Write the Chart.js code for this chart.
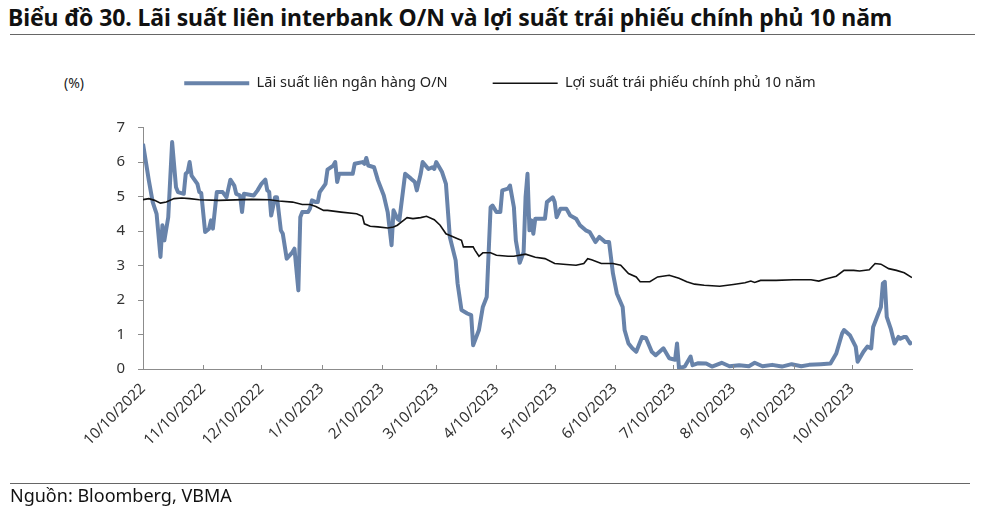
<!DOCTYPE html>
<html>
<head>
<meta charset="utf-8">
<script src="https://cdn.jsdelivr.net/npm/chart.js@4.4.0/dist/chart.umd.min.js"></script>
<style>
  html, body { margin: 0; padding: 0; background: #fff; }
  #wrap { position: relative; width: 1000px; height: 524px; font-family: 'Noto Sans', sans-serif; color: #111; }
  #title { position: absolute; left: 8px; top: 1px; font-size: 23px; font-weight: bold; white-space: nowrap; letter-spacing: -0.1px; }
  .rule { position: absolute; left: 10px; height: 1px; background: #666; }
  #unit { position: absolute; left: 64px; top: 73px; font-size: 14px; color: #222; }
  #source { position: absolute; left: 10px; top: 483px; font-size: 18px; }
  #chart { position: absolute; left: 0; top: 0; }
</style>
</head>
<body>
<div id="wrap">
  <div id="title">Biểu đồ 30. Lãi suất liên interbank O/N và lợi suất trái phiếu chính phủ 10 năm</div>
  <div class="rule" style="top:34px;width:965px"></div>
  <div id="unit">(%)</div>
  <canvas id="chart" width="1000" height="524"></canvas>
  <div class="rule" style="top:483px;width:960px"></div>
  <div id="source">Nguồn: Bloomberg, VBMA</div>
</div>
<script>
// x axis: monthly ticks
const tickLabels = ['10/10/2022', '11/10/2022', '12/10/2022', '1/10/2023', '2/10/2023', '3/10/2023',
  '4/10/2023', '5/10/2023', '6/10/2023', '7/10/2023', '8/10/2023', '9/10/2023', '10/10/2023'];
const startDate = '2022-10-10';
const endDate = '2023-11-10';

// Interbank O/N rate (%)
const onDates = [
  '2022-10-10','2022-10-13','2022-10-15','2022-10-17','2022-10-19','2022-10-20','2022-10-21','2022-10-23',
  '2022-10-25','2022-10-27','2022-10-28','2022-10-31','2022-11-01','2022-11-02','2022-11-03','2022-11-04',
  '2022-11-07','2022-11-08','2022-11-09','2022-11-11','2022-11-13','2022-11-14','2022-11-15','2022-11-17',
  '2022-11-20','2022-11-22','2022-11-24','2022-11-26','2022-11-27','2022-11-29','2022-11-30','2022-12-01',
  '2022-12-06','2022-12-08','2022-12-10','2022-12-12','2022-12-13','2022-12-14','2022-12-15','2022-12-17',
  '2022-12-18','2022-12-20','2022-12-21','2022-12-23','2022-12-26','2022-12-27','2022-12-29','2022-12-30',
  '2022-12-31','2023-01-03','2023-01-04','2023-01-05','2023-01-07','2023-01-08','2023-01-09','2023-01-12',
  '2023-01-13','2023-01-16','2023-01-17','2023-01-18','2023-01-19','2023-01-26','2023-01-27','2023-01-31',
  '2023-02-01','2023-02-02','2023-02-03','2023-02-06','2023-02-08','2023-02-11','2023-02-13','2023-02-15',
  '2023-02-16','2023-02-18','2023-02-19','2023-02-22','2023-02-25','2023-02-27','2023-02-28','2023-03-02',
  '2023-03-03','2023-03-06','2023-03-08','2023-03-09','2023-03-10','2023-03-13','2023-03-15','2023-03-17',
  '2023-03-20','2023-03-21','2023-03-23','2023-03-26','2023-03-28','2023-03-29','2023-04-01','2023-04-03',
  '2023-04-05','2023-04-07','2023-04-08','2023-04-10','2023-04-12','2023-04-13','2023-04-16','2023-04-17',
  '2023-04-19','2023-04-20','2023-04-22','2023-04-24','2023-04-25','2023-04-26','2023-04-27','2023-04-28',
  '2023-04-29','2023-04-30','2023-05-05','2023-05-06','2023-05-09','2023-05-10','2023-05-11','2023-05-13',
  '2023-05-16','2023-05-18','2023-05-21','2023-05-23','2023-05-26','2023-05-28','2023-05-31','2023-06-02',
  '2023-06-05','2023-06-07','2023-06-09','2023-06-11','2023-06-14','2023-06-15','2023-06-17','2023-06-19',
  '2023-06-21','2023-06-24','2023-06-26','2023-06-29','2023-07-01','2023-07-04','2023-07-05','2023-07-08',
  '2023-07-11','2023-07-12','2023-07-13','2023-07-16','2023-07-19','2023-07-20','2023-07-23','2023-07-27',
  '2023-07-30','2023-08-04','2023-08-08','2023-08-13','2023-08-18','2023-08-21','2023-08-25','2023-08-30',
  '2023-09-04','2023-09-09','2023-09-14','2023-09-18','2023-09-24','2023-09-29','2023-10-02','2023-10-05',
  '2023-10-06','2023-10-09','2023-10-12','2023-10-13','2023-10-16','2023-10-18','2023-10-20','2023-10-21',
  '2023-10-23','2023-10-25','2023-10-26','2023-10-27','2023-10-28','2023-10-30','2023-11-01','2023-11-03',
  '2023-11-04','2023-11-06','2023-11-07','2023-11-09','2023-11-10'
];
const onValues = [
  6.53, 5.47, 4.84, 4.50, 3.25, 4.17, 3.73, 4.40,
  6.58, 5.27, 5.13, 5.08, 5.66, 5.71, 6.00, 5.61,
  5.37, 5.13, 5.10, 3.97, 4.07, 4.31, 4.07, 5.13,
  5.13, 4.98, 5.49, 5.32, 5.08, 5.03, 4.55, 5.08,
  5.03, 5.18, 5.37, 5.49, 5.18, 5.13, 4.45, 4.98,
  4.98, 4.02, 3.92, 3.20, 3.39, 3.49, 2.28, 4.40,
  4.55, 4.55, 4.65, 4.89, 4.84, 4.84, 5.13, 5.37,
  5.78, 5.90, 6.00, 5.42, 5.66, 5.66, 5.95, 6.00,
  5.95, 6.12, 5.90, 5.85, 5.47, 5.03, 4.55, 3.59,
  4.60, 4.36, 4.31, 5.66, 5.52, 5.42, 5.18, 5.66,
  6.00, 5.80, 5.85, 5.80, 6.00, 5.71, 5.37, 3.83,
  3.15, 2.48, 1.71, 1.61, 1.56, 0.69, 1.13, 1.80,
  2.09, 4.69, 4.74, 4.55, 4.55, 5.18, 5.23, 5.32,
  4.69, 3.73, 3.08, 3.39, 4.98, 5.66, 4.02, 4.31,
  3.92, 4.36, 4.36, 4.84, 4.98, 4.84, 4.40, 4.65,
  4.65, 4.45, 4.36, 4.17, 4.02, 3.97, 3.68, 3.83,
  3.68, 3.68, 2.77, 2.19, 1.80, 1.13, 0.74, 0.60,
  0.50, 0.93, 0.90, 0.50, 0.40, 0.55, 0.60, 0.31,
  0.27, 0.74, 0.03, 0.07, 0.36, 0.11, 0.17, 0.16,
  0.07, 0.18, 0.08, 0.11, 0.08, 0.18, 0.08, 0.12,
  0.07, 0.14, 0.08, 0.12, 0.14, 0.16, 0.45, 1.03,
  1.13, 0.98, 0.65, 0.21, 0.50, 0.65, 0.60, 1.22,
  1.51, 1.80, 2.48, 2.53, 1.51, 1.18, 0.74, 0.93,
  0.88, 0.93, 0.93, 0.74, 0.79
];

// 10-year government bond yield (%)
const bondDates = [
  '2022-10-10','2022-10-13','2022-10-16','2022-10-19','2022-10-22','2022-10-26','2022-10-30','2022-11-03',
  '2022-11-08','2022-11-18','2022-12-05','2022-12-14','2022-12-19','2022-12-26','2022-12-31','2023-01-04',
  '2023-01-07','2023-01-11','2023-01-13','2023-01-20','2023-01-28','2023-01-31','2023-02-01','2023-02-04',
  '2023-02-08','2023-02-13','2023-02-16','2023-02-18','2023-02-20','2023-02-23','2023-02-26','2023-03-02',
  '2023-03-05','2023-03-09','2023-03-12','2023-03-15','2023-03-18','2023-03-21','2023-03-23','2023-03-24',
  '2023-03-29','2023-03-30','2023-04-01','2023-04-03','2023-04-07','2023-04-10','2023-04-16','2023-04-19',
  '2023-04-25','2023-04-30','2023-05-05','2023-05-10','2023-05-16','2023-05-21','2023-05-25','2023-05-27',
  '2023-05-29','2023-06-03','2023-06-09','2023-06-13','2023-06-17','2023-06-21','2023-06-23','2023-06-28',
  '2023-07-02','2023-07-08','2023-07-13','2023-07-17','2023-07-21','2023-07-26','2023-08-03','2023-08-10',
  '2023-08-16','2023-08-19','2023-08-21','2023-08-24','2023-09-01','2023-09-10','2023-09-19','2023-09-23',
  '2023-09-27','2023-10-02','2023-10-06','2023-10-11','2023-10-14','2023-10-19','2023-10-22','2023-10-25',
  '2023-10-29','2023-11-02','2023-11-06','2023-11-10'
];
const bondValues = [
  4.91, 4.94, 4.89, 4.81, 4.84, 4.94, 4.96, 4.94,
  4.91, 4.89, 4.92, 4.91, 4.87, 4.84, 4.77, 4.77,
  4.71, 4.60, 4.60, 4.55, 4.50, 4.43, 4.21, 4.14,
  4.12, 4.09, 4.12, 4.17, 4.26, 4.39, 4.36, 4.39,
  4.43, 4.33, 4.17, 3.92, 3.85, 3.78, 3.73, 3.54,
  3.54, 3.44, 3.27, 3.37, 3.37, 3.30, 3.27, 3.27,
  3.33, 3.24, 3.20, 3.06, 3.03, 3.01, 3.06, 3.20,
  3.17, 3.06, 3.06, 3.01, 2.77, 2.67, 2.53, 2.53,
  2.67, 2.72, 2.63, 2.53, 2.46, 2.43, 2.40, 2.45,
  2.50, 2.55, 2.51, 2.57, 2.57, 2.59, 2.59, 2.55,
  2.62, 2.69, 2.86, 2.86, 2.84, 2.88, 3.06, 3.04,
  2.91, 2.86, 2.79, 2.65
];

const DAY = 86400000;
function dayOf(iso) { return (Date.parse(iso) - Date.parse(startDate)) / DAY; }
function dayOfLabel(lbl) {
  const [m, d, y] = lbl.split('/').map(Number);
  return (Date.UTC(y, m - 1, d) - Date.parse(startDate)) / DAY;
}
const tickDays = tickLabels.map(dayOfLabel);

// small marks pointing up into the plot on the x axis
const innerTicks = {
  id: 'innerTicks',
  afterDraw(chart) {
    const xs = chart.scales.x, ctx = chart.ctx;
    const bottom = chart.chartArea.bottom;
    ctx.save();
    ctx.strokeStyle = '#8c8c8c';
    ctx.lineWidth = 1;
    tickDays.forEach(d => {
      const px = Math.round(xs.getPixelForValue(d)) + 0.5;
      ctx.beginPath();
      ctx.moveTo(px, bottom);
      ctx.lineTo(px, bottom - 4);
      ctx.stroke();
    });
    ctx.restore();
  }
};

// give the legend extra space underneath it
const legendGap = {
  id: 'legendGap',
  beforeInit(chart) {
    const fit = chart.legend.fit;
    chart.legend.fit = function () {
      fit.bind(chart.legend)();
      this.height += 27;
    };
  }
};

new Chart(document.getElementById('chart'), {
  type: 'line',
  data: {
    datasets: [
      {
        label: 'Lãi suất liên ngân hàng O/N',
        data: onDates.map((d, i) => ({ x: dayOf(d), y: onValues[i] })),
        borderColor: '#6883aa',
        backgroundColor: '#6883aa',
        borderWidth: 4,
        borderJoinStyle: 'round',
        pointRadius: 0,
        tension: 0,
        order: 1
      },
      {
        label: 'Lợi suất trái phiếu chính phủ 10 năm',
        data: bondDates.map((d, i) => ({ x: dayOf(d), y: bondValues[i] })),
        borderColor: '#111111',
        backgroundColor: '#111111',
        borderWidth: 1.6,
        pointRadius: 0,
        tension: 0,
        order: 0
      }
    ]
  },
  options: {
    responsive: false,
    animation: false,
    layout: { padding: { top: 31, right: 88, left: 88, bottom: 0 } },
    plugins: {
      tooltip: { enabled: false },
      legend: {
        position: 'top',
        labels: {
          usePointStyle: true,
          pointStyle: 'line',
          pointStyleWidth: 65,
          padding: 45,
          color: '#222',
          font: { family: "'Noto Sans', sans-serif", size: 14.6 },
          sort: (a, b) => a.datasetIndex - b.datasetIndex
        }
      }
    },
    scales: {
      x: {
        type: 'linear',
        min: 0,
        max: dayOf(endDate),
        afterBuildTicks: scale => { scale.ticks = tickDays.map(v => ({ value: v })); },
        afterFit: scale => { scale.height = 155; },
        grid: { display: false },
        border: { display: true, color: '#8c8c8c' },
        ticks: {
          autoSkip: false,
          minRotation: 45,
          maxRotation: 45,
          padding: 3,
          color: '#333',
          font: { family: "'Noto Sans', sans-serif", size: 15 },
          callback: v => tickLabels[tickDays.indexOf(v)]
        }
      },
      y: {
        min: 0,
        max: 7,
        afterFit: scale => { scale.width = 55; },
        grid: { drawOnChartArea: false, drawTicks: true, tickLength: 5, color: '#8c8c8c' },
        border: { display: true, color: '#8c8c8c' },
        ticks: {
          stepSize: 1,
          padding: 13,
          color: '#333',
          font: { family: "'Noto Sans', sans-serif", size: 15 }
        }
      }
    }
  },
  plugins: [innerTicks, legendGap]
});
</script>
</body>
</html>
